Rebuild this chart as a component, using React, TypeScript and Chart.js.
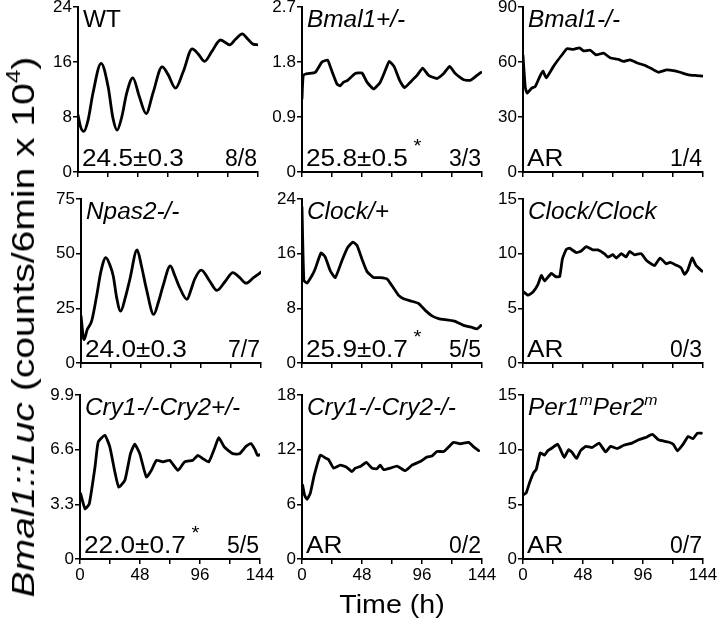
import React, { useEffect, useRef } from "react";
import { Chart, registerables } from "chart.js";

Chart.register(...registerables);

const FONT = "'Liberation Sans', Arial, Helvetica, sans-serif";

// ---- shared x axis (Time, h) ----
const timeTicks = [0, 24, 48, 72, 96, 120, 144];
const timeTickLabels = ["0", "", "48", "", "96", "", "144"];

// ---- WT ----
const wtTime = [0, 2, 4.7, 8, 12, 18.5, 24, 28, 31.3, 35, 39, 43.9, 49, 54.5, 60, 67.3, 72, 78, 84, 91.4, 96, 101.2, 107, 114, 121.4, 126, 131.4, 136, 140, 144];
const wtValue = [8.3, 6.6, 5.9, 7.5, 11.5, 15.8, 12.5, 7.8, 6.1, 8, 11.5, 13.7, 11, 8.5, 11.5, 15.3, 14.2, 12.2, 14.5, 17.9, 17.2, 16.1, 17.5, 19.2, 18.5, 19.3, 20.1, 19.3, 18.6, 18.5];
const wtYTicks = ["0", "8", "16", "24"];

// ---- Bmal1+/- ----
const bmalHetTime = [0, 1, 4, 10.6, 16, 20.5, 23.2, 28, 30.5, 33.3, 36.5, 42.6, 48, 52, 57.3, 62.6, 66.6, 69.8, 73.8, 78.1, 82.1, 86.6, 92, 96.5, 101.3, 108, 113.3, 118.1, 122.6, 129.3, 134.6, 140, 143.2];
const bmalHetValue = [1.2, 1.58, 1.61, 1.63, 1.8, 1.83, 1.69, 1.44, 1.41, 1.47, 1.5, 1.61, 1.62, 1.47, 1.36, 1.47, 1.66, 1.81, 1.72, 1.5, 1.38, 1.47, 1.58, 1.7, 1.58, 1.53, 1.61, 1.73, 1.61, 1.51, 1.5, 1.58, 1.63];
const bmalHetYTicks = ["0", "0.9", "1.8", "2.7"];

// ---- Bmal1-/- ----
const bmalKoTime = [0, 1.8, 3.2, 7.2, 9.8, 13.8, 16, 18.6, 24, 27.7, 31.9, 35.1, 40.4, 45.2, 48.4, 53.8, 58.5, 64.4, 69.7, 76.4, 80.4, 85.7, 91, 97.7, 103, 108.3, 115, 120.3, 125.6, 132.3, 139, 144];
const bmalKoValue = [63.5, 46.3, 43, 45.9, 46.6, 52.6, 55, 51.4, 57.2, 60.8, 64.5, 67.2, 66.9, 67.7, 66.1, 66.4, 63.9, 64.8, 62.3, 61.4, 60.3, 61.2, 59.6, 58.1, 56.3, 54.4, 55.7, 55.3, 54.4, 53, 52.6, 52.3];
const bmalKoYTicks = ["0", "30", "60", "90"];

// ---- Npas2-/- ----
const npasTime = [0, 2.4, 5, 8.5, 12.5, 16, 19.9, 23, 25.8, 28.5, 31.7, 35.5, 39.1, 44.9, 48.5, 52.4, 58.2, 62, 65.6, 71.5, 75, 78.4, 84.8, 88, 90.9, 96.2, 102.9, 108.7, 115.6, 121.5, 127, 132.1, 138, 144];
const npasValue = [21.5, 10.7, 15.3, 19.1, 30.6, 42, 48.2, 45, 39.8, 30, 23.7, 30, 38.3, 51.7, 44, 33.7, 22.2, 28, 35.2, 44.4, 40, 35.2, 29.1, 33.5, 38.3, 42.5, 37.5, 33.2, 37.5, 41.3, 39, 36.5, 39, 41.5];
const npasYTicks = ["0", "25", "50", "75"];

// ---- Clock/+ ----
const clockHetTime = [0, 1.5, 4, 8, 10.6, 15.2, 18.6, 22.6, 26.6, 32, 36.5, 40.8, 44, 48, 52, 57.3, 62.6, 68, 72, 77.3, 81.3, 86.6, 93.3, 98.6, 104, 109.3, 116, 122.6, 129.3, 136, 140, 143.2];
const clockHetValue = [22.8, 12.1, 11.7, 12.8, 13.8, 16.1, 15.5, 13.5, 12.5, 15, 16.9, 17.7, 17.2, 15.2, 13.4, 12.5, 12.5, 12.3, 11.3, 9.9, 9.4, 9.1, 8.7, 7.7, 6.9, 6.5, 6.3, 6.1, 5.5, 5.2, 5, 5.5];
const clockHetYTicks = ["0", "8", "16", "24"];

// ---- Clock/Clock ----
const clockHomTime = [0.5, 4, 8, 12, 14.7, 17.3, 22.7, 26.1, 29.3, 31.5, 34.7, 37.3, 42.6, 46.6, 50.6, 55.9, 59.9, 65.3, 67.9, 71.9, 74.6, 78.6, 82.6, 85.2, 89.2, 94.6, 98.6, 102.6, 105.2, 109.7, 114.5, 117.7, 122.5, 126.5, 129.2, 131.8, 135.3, 138.5, 143.3];
const clockHomValue = [6.5, 6.2, 6.5, 7.2, 8, 7.5, 8.2, 7.9, 7.9, 9.5, 10.4, 10.5, 10.1, 10.25, 10.65, 10.35, 10.35, 9.98, 9.68, 9.9, 9.6, 10, 9.7, 10.2, 9.9, 10, 9.4, 9.07, 8.9, 9.6, 9.07, 9.2, 8.95, 8.7, 8.1, 8.5, 9.6, 8.9, 8.4];
const clockHomYTicks = ["0", "5", "10", "15"];

// ---- Cry1-/-Cry2+/- ----
const cryHetTime = [0.5, 4, 7.4, 12, 14.6, 19.9, 23.9, 27.9, 31, 35.9, 40.4, 43.8, 47.8, 53.1, 57.1, 61.1, 66.4, 71.7, 78.4, 83.7, 90.3, 94.3, 98.2, 103, 107.6, 111, 115.5, 122.2, 127.5, 132.8, 136.8, 140, 142, 144];
const cryHetValue = [3.94, 3.03, 3.33, 5.55, 7.07, 7.47, 6.76, 5.25, 4.34, 4.75, 6.36, 6.93, 6.36, 4.95, 5.35, 5.96, 5.86, 5.96, 5.35, 5.86, 5.96, 6.26, 6.06, 5.86, 6.67, 7.33, 6.76, 6.36, 6.35, 6.8, 6.97, 6.6, 6.26, 6.3];
const cryHetYTicks = ["0", "3.3", "6.6", "9.9"];

// ---- Cry1-/-Cry2-/- ----
const cryKoTime = [0.5, 2.1, 4, 6.6, 9.8, 14.6, 18.6, 21.3, 25.3, 30.6, 35.4, 40, 42.6, 46.6, 51.4, 56, 60, 62.6, 65.3, 70.6, 76, 82.6, 88, 94.6, 100, 104, 108, 113.3, 117.3, 121.3, 126.6, 133.3, 137.3, 141.3];
const cryKoValue = [8.1, 7, 6.55, 7.2, 9.2, 11.4, 11.1, 10.9, 9.97, 10.3, 10.1, 9.6, 9.97, 10.15, 10.6, 9.97, 9.9, 10.3, 9.8, 9.97, 10.2, 9.7, 10.3, 10.7, 11.2, 11.3, 11.8, 11.8, 12.3, 12.8, 12.65, 12.8, 12.3, 11.9];
const cryKoYTicks = ["0", "6", "12", "18"];

// ---- Per1mPer2m ----
const perTime = [0.5, 2.6, 5.3, 8.5, 10.6, 13.8, 17.2, 19.8, 23.8, 27.7, 30.4, 33, 36.5, 39.6, 42.8, 46, 50.2, 55.4, 60.8, 66.1, 70, 75.3, 80.6, 87.2, 92.5, 97.8, 103.6, 108.3, 116.2, 120.2, 123.6, 128.1, 132.1, 136, 139.5, 142.7];
const perValue = [5.9, 6.05, 7, 7.9, 8.2, 9.7, 9.5, 9.9, 10.2, 10.5, 9.9, 9.3, 10, 9.7, 9.2, 9.9, 10.3, 10.2, 10.6, 9.8, 10.3, 10.1, 10.4, 10.6, 10.9, 11.1, 11.4, 10.9, 10.7, 10.5, 9.9, 10.5, 11.2, 11, 11.5, 11.5];
const perYTicks = ["0", "5", "10", "15"];

// ---- annotations ----
const periods = ["24.5±0.3", "25.8±0.5", "AR", "24.0±0.3", "25.9±0.7", "AR", "22.0±0.7", "AR", "AR"];
const significant = [false, true, false, false, true, false, true, false, false];
const rhythmicCounts = ["8/8", "3/3", "1/4", "7/7", "5/5", "0/3", "5/5", "0/2", "0/7"];

// ---- layout ----
const PW = 180;
const YW = 44;
const PAD_TOP = 12;
const PAD_RIGHT = 24;

type PanelDef = {
  time: number[];
  value: number[];
  yTicks: string[];
  smooth: boolean;
  L: number;
  T: number;
  H: number;
  showX: boolean;
  label: React.ReactNode;
};

const sup = (t: string) => (
  <span style={{ fontSize: 15, position: "relative", top: -10 }}>{t}</span>
);

const panels: PanelDef[] = [
  { time: wtTime, value: wtValue, yTicks: wtYTicks, smooth: true, L: 78, T: 7, H: 165, showX: false, label: <span>WT</span> },
  { time: bmalHetTime, value: bmalHetValue, yTicks: bmalHetYTicks, smooth: false, L: 302, T: 7, H: 165, showX: false, label: <i>Bmal1+/-</i> },
  { time: bmalKoTime, value: bmalKoValue, yTicks: bmalKoYTicks, smooth: false, L: 523, T: 7, H: 165, showX: false, label: <i>Bmal1-/-</i> },
  { time: npasTime, value: npasValue, yTicks: npasYTicks, smooth: true, L: 81, T: 199, H: 164, showX: false, label: <i>Npas2-/-</i> },
  { time: clockHetTime, value: clockHetValue, yTicks: clockHetYTicks, smooth: false, L: 302, T: 199, H: 164, showX: false, label: <i>Clock/+</i> },
  { time: clockHomTime, value: clockHomValue, yTicks: clockHomYTicks, smooth: false, L: 523, T: 199, H: 164, showX: false, label: <i>Clock/Clock</i> },
  { time: cryHetTime, value: cryHetValue, yTicks: cryHetYTicks, smooth: false, L: 80, T: 395, H: 164, showX: true, label: <i>Cry1-/-Cry2+/-</i> },
  { time: cryKoTime, value: cryKoValue, yTicks: cryKoYTicks, smooth: false, L: 302, T: 395, H: 164, showX: true, label: <i>Cry1-/-Cry2-/-</i> },
  { time: perTime, value: perValue, yTicks: perYTicks, smooth: false, L: 523, T: 395, H: 164, showX: true, label: <i>Per1{sup("m")}Per2{sup("m")}</i> },
];

function Panel({ p }: { p: PanelDef }) {
  const ref = useRef<HTMLCanvasElement>(null);
  const xH = p.showX ? 34 : 12;
  const w = YW + PW + PAD_RIGHT;
  const h = PAD_TOP + p.H + xH;

  useEffect(() => {
    if (!ref.current) return;
    const yVals = p.yTicks.map(Number);
    const tickFont = { family: FONT, size: 17 };
    const chart = new Chart(ref.current, {
      type: "line",
      data: {
        datasets: [
          {
            data: p.time.map((t, i) => ({ x: t, y: p.value[i] })),
            borderColor: "#000",
            borderWidth: 2.8,
            pointRadius: 0,
            fill: false,
            tension: p.smooth ? 0.4 : 0.15,
            cubicInterpolationMode: p.smooth ? "monotone" : "default",
            borderJoinStyle: "round",
            borderCapStyle: "round",
          } as any,
        ],
      },
      options: {
        animation: false,
        responsive: false,
        maintainAspectRatio: false,
        events: [],
        layout: { padding: { top: PAD_TOP, right: PAD_RIGHT, left: 0, bottom: 0 } },
        plugins: { legend: { display: false }, tooltip: { enabled: false }, title: { display: false } },
        scales: {
          x: {
            type: "linear",
            min: 0,
            max: 144,
            afterBuildTicks: (s: any) => {
              s.ticks = timeTicks.map((v) => ({ value: v }));
            },
            afterFit: (s: any) => {
              s.height = xH;
            },
            ticks: {
              autoSkip: false,
              maxRotation: 0,
              minRotation: 0,
              color: "#000",
              font: tickFont,
              padding: 1,
              callback: (_v: any, i: number) => (p.showX ? timeTickLabels[i] : ""),
            },
            grid: { drawOnChartArea: false, drawTicks: true, tickLength: 5, color: "#000", lineWidth: 1.5 },
            border: { display: true, color: "#000", width: 2 },
          },
          y: {
            type: "linear",
            min: 0,
            max: yVals[yVals.length - 1],
            afterBuildTicks: (s: any) => {
              s.ticks = yVals.map((v) => ({ value: v }));
            },
            afterFit: (s: any) => {
              s.width = YW;
            },
            ticks: {
              autoSkip: false,
              color: "#000",
              font: tickFont,
              padding: 1,
              callback: (_v: any, i: number) => p.yTicks[i],
            },
            grid: { drawOnChartArea: false, drawTicks: true, tickLength: 5, color: "#000", lineWidth: 1.5 },
            border: { display: true, color: "#000", width: 2 },
          },
        },
      } as any,
    });
    return () => chart.destroy();
  }, []);

  return (
    <canvas
      ref={ref}
      width={w}
      height={h}
      style={{ position: "absolute", left: p.L - YW, top: p.T - PAD_TOP, width: w, height: h }}
    />
  );
}

export default function App() {
  return (
    <div
      style={{
        position: "absolute",
        left: 0,
        top: 0,
        width: 720,
        height: 622,
        background: "#fff",
        fontFamily: FONT,
        color: "#000",
        overflow: "hidden",
      }}
    >
      {panels.map((p, i) => (
        <Panel key={"c" + i} p={p} />
      ))}
      {panels.map((p, i) => {
        const B = p.T + p.H;
        return (
          <React.Fragment key={"t" + i}>
            <div
              style={{
                position: "absolute",
                left: p.L + 5,
                top: p.T + 1,
                fontSize: 23,
                lineHeight: 1,
                whiteSpace: "nowrap",
                transform: "scaleX(1.06)",
                transformOrigin: "left top",
              }}
            >
              {p.label}
            </div>
            <div
              style={{
                position: "absolute",
                left: p.L + 4,
                top: B - 25,
                fontSize: 23,
                lineHeight: 1,
                whiteSpace: "nowrap",
                transform: "scaleX(1.14)",
                transformOrigin: "left top",
              }}
            >
              {periods[i]}
              {significant[i] ? (
                <span style={{ fontSize: 18, position: "relative", top: -14, marginLeft: 5 }}>*</span>
              ) : null}
            </div>
            <div
              style={{
                position: "absolute",
                right: 720 - (p.L + PW - 1),
                top: B - 25,
                fontSize: 23,
                lineHeight: 1,
                whiteSpace: "nowrap",
              }}
            >
              {rhythmicCounts[i]}
            </div>
          </React.Fragment>
        );
      })}
      <div
        style={{
          position: "absolute",
          left: 23,
          top: 327,
          transform: "translate(-50%, -50%) rotate(-90deg) scaleX(1.22)",
          fontSize: 32,
          lineHeight: 1,
          whiteSpace: "nowrap",
        }}
      >
        <i>Bmal1::Luc</i> (counts/6min x 10
        <span style={{ fontSize: 20, position: "relative", top: -14 }}>4</span>)
      </div>
      <div
        style={{
          position: "absolute",
          left: 392,
          top: 591,
          transform: "translateX(-50%) scaleX(1.1)",
          fontSize: 26,
          lineHeight: 1,
          whiteSpace: "nowrap",
        }}
      >
        Time (h)
      </div>
    </div>
  );
}
